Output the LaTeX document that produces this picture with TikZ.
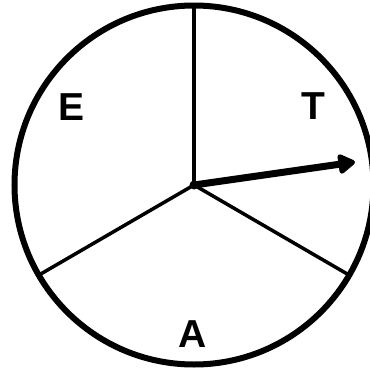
\documentclass[tikz,border=0pt]{standalone}
\usepackage{fontspec}
\setmainfont{Liberation Sans}
\usetikzlibrary{arrows.meta}
\begin{document}
\begin{tikzpicture}[x=1pt,y=-1pt,
  rim/.style={line width=6pt},
  spoke/.style={line width=3.5pt},
  pointer/.style={line width=7pt,-{Triangle[length=19pt,width=22pt,round]}},
  lbl/.style={font=\bfseries\fontsize{39}{41}\selectfont,inner sep=0pt}]
\useasboundingbox (0,0) rectangle (370,373);
\coordinate (c) at (194,185);
\draw[rim] (c) circle[radius=179.5];
\coordinate (top) at (194,6);
\coordinate (ll) at (39,275);
\coordinate (lr) at (349,275);
\coordinate (tip) at (355,162);
\draw[spoke] (c) -- (top);
\draw[spoke] (c) -- (ll);
\draw[spoke] (c) -- (lr);
\draw[pointer] (c) -- (tip);
\fill (c) circle[radius=4.5];
\node[lbl] (E) at (72,107) {E};
\node[lbl] (T) at (313,106) {T};
\node[lbl] (A) at (193,334) {A};
\end{tikzpicture}
\end{document}
